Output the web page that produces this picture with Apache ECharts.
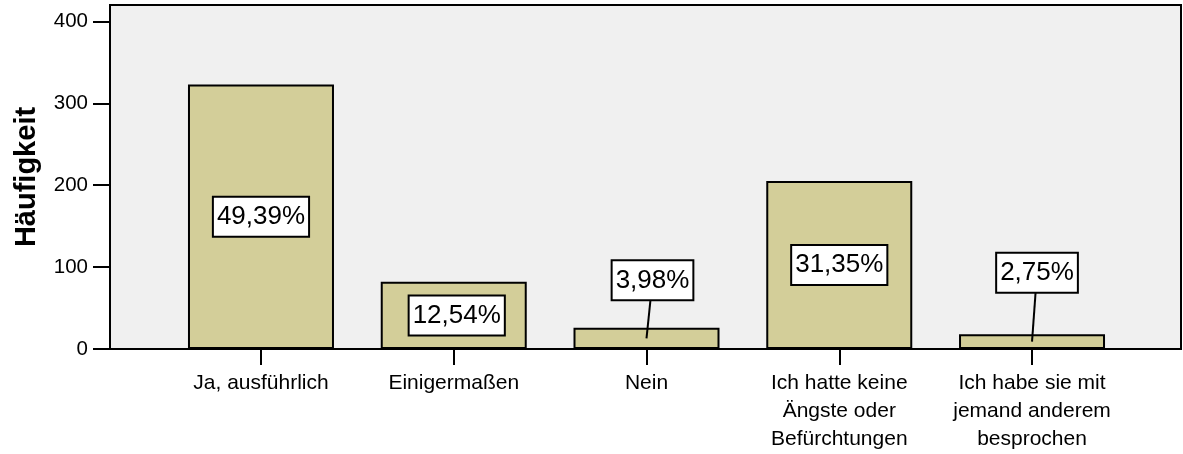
<!DOCTYPE html>
<html>
<head>
<meta charset="utf-8">
<script src="https://cdn.jsdelivr.net/npm/echarts@6/dist/echarts.min.js"></script>
<style>html,body{margin:0;padding:0;background:#fff}#c{width:1183px;height:454px}</style>
</head>
<body>
<div id="c"></div>
<script>
const categories = ['Ja, ausführlich', 'Einigermaßen', 'Nein', 'Ich hatte keine\nÄngste oder\nBefürchtungen', 'Ich habe sie mit\njemand anderem\nbesprochen'];
const counts = [323, 82, 26, 205, 18];
const percentLabels = ['49,39%', '12,54%', '3,98%', '31,35%', '2,75%'];
const yTicks = [0, 100, 200, 300, 400];
const yAxisName = 'Häufigkeit';

// layout only: callout offsets (px) of the percentage boxes relative to bar centre
const calloutOffset = {1: [3, 0], 2: [6, -58], 4: [5, -69]};

const FONT = '"Liberation Sans", Arial, Helvetica, sans-serif';
const chart = echarts.init(document.getElementById('c'), null, {renderer: 'canvas'});
const gridTop = 5, gridBottom = 105;
chart.setOption({
  animation: false,
  grid: [
    {left: 110, right: 2, top: gridTop, bottom: gridBottom, show: true, backgroundColor: '#f0f0f0', borderColor: '#000', borderWidth: 2, z: 0},
    {left: 164.6, right: 54.6, top: gridTop, bottom: gridBottom}
  ],
  xAxis: [
    {gridIndex: 0, type: 'value', show: false, min: 0, max: 1},
    {gridIndex: 1, type: 'category', data: categories,
     axisLine: {show: false},
     axisTick: {show: true, alignWithLabel: true, length: 16, lineStyle: {color: '#000', width: 2}},
     axisLabel: {color: '#000', fontSize: 21, fontFamily: FONT, lineHeight: 28, margin: 20, interval: 0}
    }
  ],
  yAxis: [
    {gridIndex: 0, type: 'value', min: 0, max: 420,
     name: yAxisName, nameLocation: 'middle', nameGap: 69,
     nameTextStyle: {fontSize: 29, fontWeight: 'bold', fontFamily: FONT, color: '#000'},
     axisLine: {show: false},
     splitLine: {show: false},
     axisTick: {show: true, length: 17, lineStyle: {color: '#000', width: 2}, customValues: yTicks},
     axisLabel: {color: '#000', fontSize: 20.5, fontFamily: FONT, margin: 22, customValues: yTicks}
    },
    {gridIndex: 1, type: 'value', min: 0, max: 420, show: false}
  ],
  series: [
    {type: 'bar', xAxisIndex: 1, yAxisIndex: 1, data: counts, barWidth: 146,
     itemStyle: {color: '#d3ce99', borderColor: '#000', borderWidth: 2}, z: 3},
    {type: 'custom', xAxisIndex: 1, yAxisIndex: 1, z: 4,
     data: counts.map((v, i) => [i, v]),
     encode: {x: 0, y: 1},
     renderItem: function (params, api) {
       const i = api.value(0), v = api.value(1);
       const c = api.coord([i, v / 2]);
       const off = calloutOffset[i] || [0, 0];
       const lx = c[0] + off[0], ly = c[1] + off[1];
       const children = [];
       if (off[1] !== 0) {
         children.push({type: 'line', shape: {x1: lx, y1: ly, x2: c[0], y2: c[1]}, style: {stroke: '#000', lineWidth: 2}});
       }
       children.push({type: 'text', x: lx, y: ly, style: {
         text: percentLabels[i], font: '26px ' + FONT, fill: '#000',
         align: 'center', verticalAlign: 'middle',
         backgroundColor: '#fff', borderColor: '#000', borderWidth: 2,
         padding: [6, 3, 4, 3], lineHeight: 28
       }});
       return {type: 'group', children: children};
     }
    }
  ]
});
</script>
</body>
</html>
